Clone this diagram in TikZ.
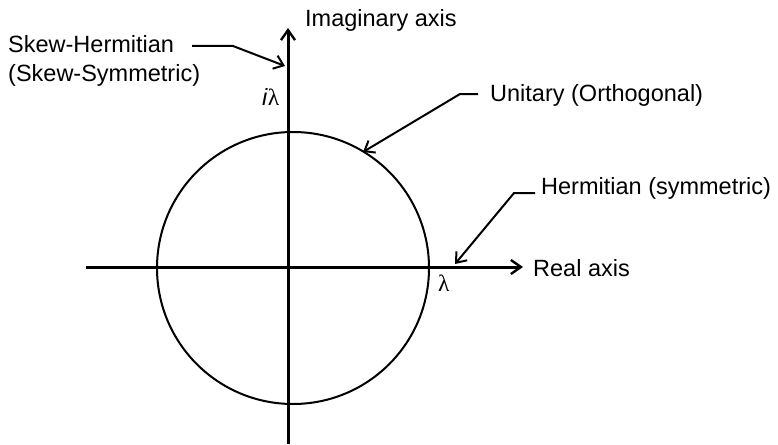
\documentclass[tikz,border=0pt]{standalone}
\usepackage{fontspec}
\setmainfont{Liberation Sans}
\newfontfamily\grk{Liberation Serif}
\usetikzlibrary{arrows.meta}
\begin{document}
\begin{tikzpicture}[x=1pt,y=-1pt,
  axisline/.style={line width=3pt,-{Straight Barb[length=10pt,width=14pt,line width=2.4pt]}},
  pointer/.style={line width=2pt,-{Straight Barb[length=9pt,width=14pt,line width=2pt]}},
  lbl/.style={inner sep=0pt,anchor=west,font=\fontsize{23.5}{29}\selectfont}]
\useasboundingbox (0,0) rectangle (778,444);
% axes
\coordinate (xl) at (86,267);
\coordinate (xr) at (523,267);
\coordinate (yb) at (288,444);
\coordinate (yt) at (288,28);
\draw[axisline] (xl) -- (xr);
\draw[axisline] (yb) -- (yt);
% circle
\draw[line width=2pt] (293,268) circle[radius=136];
% labels
\node[lbl] (imag) at (305,20) {Imaginary axis};
\node[lbl] (real) at (533,268) {Real axis};
\node[lbl,align=left] (skew) at (8,60.5) {Skew-Hermitian\\(Skew-Symmetric)};
\node[lbl] (unit) at (490,95) {Unitary (Orthogonal)};
\node[lbl] (herm) at (541,188) {Hermitian (symmetric)};
\node[lbl] (il) at (262,97) {\textit{i}{\grk λ}};
\node[lbl] (l) at (438,283) {{\grk λ}};
% pointers
\coordinate (skA) at (192,46);
\coordinate (skB) at (233,46);
\coordinate (skT) at (285,66);
\draw[pointer] (skA) -- (skB) -- (skT);
\coordinate (unA) at (478,94);
\coordinate (unB) at (460,94);
\coordinate (unT) at (363,152);
\draw[pointer] (unA) -- (unB) -- (unT);
\coordinate (heA) at (535,193);
\coordinate (heB) at (514,193);
\coordinate (heT) at (455,264);
\draw[pointer] (heA) -- (heB) -- (heT);
\end{tikzpicture}
\end{document}
